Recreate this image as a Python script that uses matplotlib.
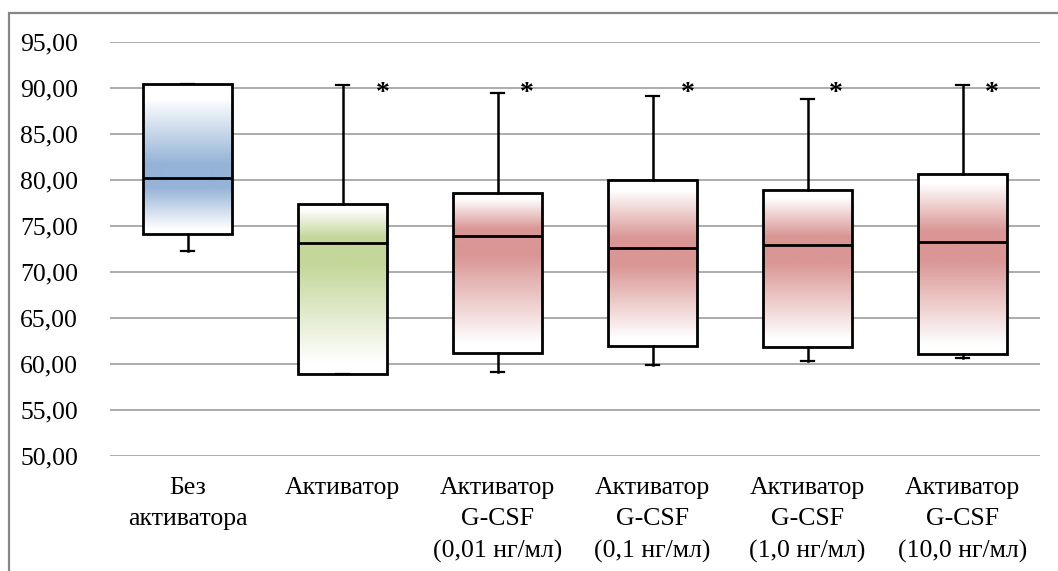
import numpy as np
import matplotlib.pyplot as plt
from matplotlib.patches import Rectangle
from matplotlib.colors import to_rgb

plt.rcParams['font.family'] = 'serif'
plt.rcParams['font.serif'] = ['Liberation Serif', 'DejaVu Serif']

categories = ['Без\nактиватора', 'Активатор', 'Активатор\nG-CSF\n(0,01 нг/мл)',
              'Активатор\nG-CSF\n(0,1 нг/мл)', 'Активатор\nG-CSF\n(1,0 нг/мл)',
              'Активатор\nG-CSF\n(10,0 нг/мл)']
whis_low = [72.3, 58.9, 59.1, 59.9, 60.3, 60.6]
q1 = [74.1, 58.9, 61.2, 62.0, 61.8, 61.1]
median = [80.2, 73.1, 73.9, 72.6, 72.9, 73.3]
q3 = [90.4, 77.4, 78.6, 80.0, 78.9, 80.7]
whis_high = [90.4, 90.3, 89.5, 89.1, 88.8, 90.3]
significant = [False, True, True, True, True, True]
colors = ['#95b3d7', '#c4d79b', '#d99694', '#d99694', '#d99694', '#d99694']
star_dx = [0, 0.26, 0.19, 0.23, 0.18, 0.19]

fig = plt.figure(figsize=(10.58, 5.71), dpi=100)
ax = fig.add_axes([110 / 1058, 1 - 456 / 571, 930 / 1058, 414 / 571])

# grey frame around the whole chart
fig.patches.append(Rectangle((9 / 1058, -0.1), 1.2, 1.1 - 13 / 571,
                             transform=fig.transFigure, fill=False,
                             edgecolor='#878787', linewidth=1.6))

positions = np.arange(1, len(categories) + 1)
box_w = 0.57
stats = []
for i in range(len(categories)):
    stats.append(dict(med=median[i], q1=q1[i], q3=q3[i],
                      whislo=whis_low[i], whishi=whis_high[i], fliers=[]))

bp = ax.bxp(stats, positions=positions, widths=box_w, patch_artist=True,
            showfliers=False,
            boxprops=dict(facecolor='none', edgecolor='black', linewidth=2.0),
            medianprops=dict(color='black', linewidth=2.0),
            whiskerprops=dict(color='black', linewidth=1.8),
            capprops=dict(color='black', linewidth=1.6),
            capwidths=0.085, zorder=4)


def box_gradient(lo, med, hi, n=300):
    # white at both box ends, full colour at the median
    y = np.linspace(hi, lo, n)
    w = np.zeros(n)
    up = y >= med
    t_up = (y[up] - med) / max(hi - med, 1e-6)
    w[up] = np.clip((0.85 - t_up) / 0.7, 0, 1)
    t_lo = (med - y[~up]) / max(med - lo, 1e-6)
    w[~up] = np.clip((0.92 - t_lo) / 0.75, 0, 1)
    return w


for i, pos in enumerate(positions):
    rgb = np.array(to_rgb(colors[i]))
    w = box_gradient(q1[i], median[i], q3[i])[:, None]
    img = 1 - w * (1 - rgb)
    img = np.repeat(img[:, None, :], 2, axis=1)
    ax.imshow(img, extent=[pos - box_w / 2, pos + box_w / 2, q1[i], q3[i]],
              aspect='auto', interpolation='bilinear', zorder=3)
    if significant[i]:
        ax.text(pos + star_dx[i], 89.4, '*', fontsize=20, ha='center', va='center',
                fontweight='bold', zorder=5)

ax.set_xlim(0.5, len(categories) + 0.5)
ax.set_ylim(50, 95)
ax.set_yticks(np.arange(50, 96, 5))
ax.set_yticklabels([f'{v:.2f}'.replace('.', ',') for v in np.arange(50, 96, 5)])
ax.set_xticks(positions)
ax.set_xticklabels(categories, linespacing=1.55)
ax.yaxis.grid(True, color='#a6a6a6', linewidth=1.3)
ax.set_axisbelow(True)
for s in ax.spines.values():
    s.set_visible(False)
ax.tick_params(axis='both', length=0, labelsize=18.5)
ax.tick_params(axis='y', pad=23)
ax.tick_params(axis='x', pad=15)

fig.savefig('out.png', dpi=100)
